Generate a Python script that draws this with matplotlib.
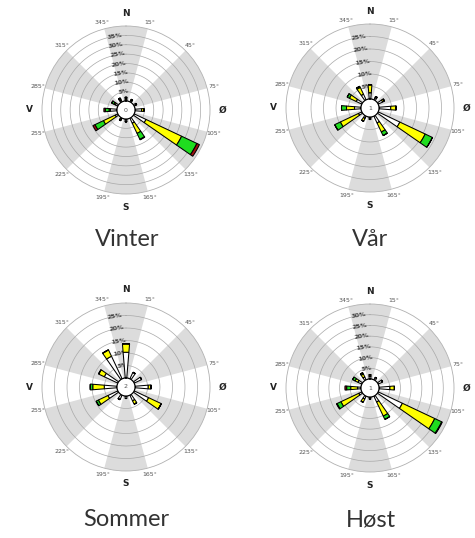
import numpy as np
import matplotlib.pyplot as plt

# wind directions (degrees, clockwise from north)
directions = [0, 30, 60, 90, 120, 150, 180, 210, 240, 270, 300, 330]

# frequency (%) per speed class, per season
vinter_white = [1.0, 1.0, 1.2, 3.5, 7.0, 3.0, 1.2, 0.8, 1.5, 3.5, 1.5, 1.0]
vinter_yellow = [0.8, 0.5, 0.3, 1.3, 21.0, 6.0, 0.3, 0.7, 7.0, 0.7, 0.8, 0.8]
vinter_green = [0.2, 0.0, 0.0, 0.0, 9.0, 3.5, 0.0, 0.0, 5.0, 2.0, 1.3, 0.5]
vinter_red = [0.0, 0.0, 0.0, 0.0, 1.5, 0.3, 0.0, 0.0, 1.2, 0.8, 0.2, 0.0]

vaar_white = [2.5, 1.0, 2.0, 4.7, 9.6, 3.0, 0.8, 1.0, 1.5, 2.6, 2.5, 2.5]
vaar_yellow = [3.2, 0.5, 0.8, 2.1, 11.2, 4.0, 0.2, 1.3, 8.0, 3.2, 3.0, 3.0]
vaar_green = [0.0, 0.0, 0.0, 0.0, 3.2, 1.6, 0.0, 0.0, 2.5, 2.0, 1.0, 0.5]
vaar_red = [0.0, 0.0, 0.0, 0.0, 0.0, 0.0, 0.0, 0.0, 0.0, 0.0, 0.0, 0.0]

sommer_white = [10.3, 2.9, 3.3, 5.3, 6.4, 2.5, 1.0, 2.0, 4.4, 5.1, 6.0, 10.0]
sommer_yellow = [3.4, 0.0, 0.0, 1.1, 5.6, 1.5, 0.0, 0.0, 4.2, 4.6, 2.5, 2.8]
sommer_green = [0.0, 0.0, 0.0, 0.0, 0.0, 0.0, 0.0, 0.0, 1.0, 1.0, 0.0, 0.0]
sommer_red = [0.0, 0.0, 0.0, 0.0, 0.0, 0.0, 0.0, 0.0, 0.0, 0.0, 0.0, 0.0]

host_white = [1.2, 1.3, 2.3, 5.1, 12.5, 3.0, 1.0, 1.5, 1.6, 1.6, 2.0, 1.5]
host_yellow = [0.8, 0.0, 0.0, 2.1, 16.7, 7.3, 0.0, 1.7, 9.2, 3.2, 1.5, 1.5]
host_green = [0.0, 0.0, 0.0, 0.0, 3.6, 1.7, 0.0, 0.0, 2.0, 1.9, 1.3, 0.7]
host_red = [0.0, 0.0, 0.0, 0.0, 0.3, 0.0, 0.0, 0.0, 0.3, 0.8, 0.0, 0.0]

calm = ['0', '1', '2', '1']
titles = ['Vinter', 'Vår', 'Sommer', 'Høst']
ring_max = [40, 30, 30, 35]

seasons = [
    (vinter_white, vinter_yellow, vinter_green, vinter_red),
    (vaar_white, vaar_yellow, vaar_green, vaar_red),
    (sommer_white, sommer_yellow, sommer_green, sommer_red),
    (host_white, host_yellow, host_green, host_red),
]

class_colors = ['white', '#ffff00', '#1fdc1f', '#a01010']

# centre (px) of each rose in the 475x538 figure
centres = [(126, 110), (370, 108), (126, 387), (370, 388)]
R = 84  # outer radius px
HOLE = 9  # radius of calm circle px
title_pos = [(127, 240), (370, 240), (126, 520), (371, 520)]

W, H = 475, 538
fig = plt.figure(figsize=(W / 100, H / 100), dpi=100)

theta = np.radians(directions)
circ = np.linspace(0, 2 * np.pi, 361)

for i in range(4):
    cx, cy = centres[i]
    ax = fig.add_axes([(cx - R) / W, (H - cy - R) / H, 2 * R / W, 2 * R / H],
                      projection='polar')
    ax.set_theta_zero_location('N')
    ax.set_theta_direction(-1)
    rmax = ring_max[i]
    off = HOLE * rmax / (R - HOLE)
    ax.set_rorigin(-off)
    ax.set_ylim(0, rmax)
    ax.grid(False)
    ax.set_xticks([])
    ax.set_yticks([])
    ax.spines['polar'].set_color('#b0b0b0')
    ax.spines['polar'].set_linewidth(0.6)

    def px(p):
        return p / R * (rmax + off) - off

    # grey sectors
    for a in range(0, 360, 60):
        ax.bar(np.radians(a), rmax, width=np.radians(30), bottom=0,
               color='#dcdcdc', edgecolor='none', zorder=0)

    # rings
    for r in range(5, rmax, 5):
        ax.plot(circ, np.full_like(circ, r), color='#a8a8a8', lw=0.5, zorder=1)

    # stacked bars
    bottom = np.zeros(len(directions))
    for vals, col in zip(seasons[i], class_colors):
        vals = np.array(vals)
        ax.bar(theta, vals, width=np.radians(9.5), bottom=bottom, color=col,
               edgecolor='black', linewidth=0.75, zorder=3)
        bottom = bottom + vals

    # calm circle
    ax.plot(circ, np.zeros_like(circ), color='black', lw=0.7, zorder=4)
    ax.text(0.5, 0.5, calm[i], transform=ax.transAxes, ha='center', va='center',
            fontsize=4.5, color='#555555', zorder=5)

    # ring labels
    for r in range(5, rmax, 5):
        ax.text(np.radians(-9), r, '%d%%' % r, ha='center', va='center',
                fontsize=4.5, color='#444444', fontweight='bold', rotation=9,
                zorder=2)

    # degree labels
    for a in range(15, 360, 30):
        ax.text(np.radians(a), px(R + 7), '%d°' % a, ha='center', va='center',
                fontsize=4.5, color='#555555')

    # compass letters
    for a, lab in zip([0, 90, 180, 270], ['N', 'Ø', 'S', 'V']):
        ax.text(np.radians(a), px(R + 13), lab, ha='center', va='center',
                fontsize=6.5, fontweight='bold', color='#222222')

    tx, ty = title_pos[i]
    fig.text(tx / W, 1 - ty / H, titles[i], ha='center', va='center',
             fontsize=17, color='#333333', family='Lato')

fig.savefig('out.png', dpi=100)
